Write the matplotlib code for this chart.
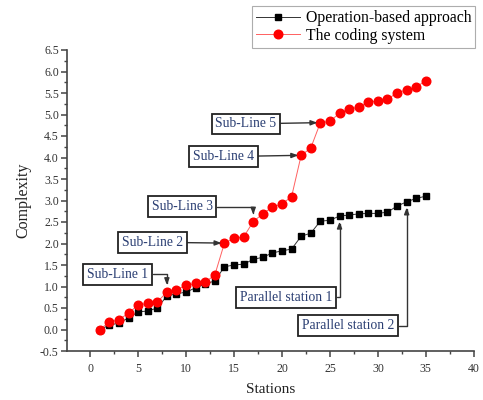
import matplotlib
matplotlib.use("Agg")
import matplotlib.pyplot as plt
from matplotlib.ticker import MultipleLocator, FormatStrFormatter

plt.rcParams['font.family'] = ['Liberation Serif', 'DejaVu Serif']

stations = list(range(1, 36))
operation_based = [0.00, 0.10, 0.15, 0.27, 0.41, 0.43, 0.50, 0.78, 0.83, 0.87,
                   0.97, 1.06, 1.13, 1.46, 1.50, 1.52, 1.63, 1.68, 1.78, 1.83,
                   1.87, 2.17, 2.24, 2.52, 2.54, 2.64, 2.66, 2.69, 2.70, 2.70,
                   2.73, 2.87, 2.97, 3.05, 3.10]
coding_system = [0.00, 0.17, 0.23, 0.38, 0.57, 0.61, 0.64, 0.87, 0.92, 1.03,
                 1.07, 1.10, 1.27, 2.01, 2.12, 2.15, 2.51, 2.69, 2.85, 2.92,
                 3.09, 4.05, 4.22, 4.81, 4.84, 5.03, 5.13, 5.17, 5.29, 5.31,
                 5.35, 5.51, 5.57, 5.64, 5.79]
series_names = ["Operation-based approach", "The coding system"]

# annotations: label, target station, series, text position (data coords), connector type
annotations = [
    ("Sub-Line 1", 8, "coding", (-0.3, 1.28), "angle_down"),
    ("Sub-Line 2", 14, "coding", (3.3, 2.03), "straight"),
    ("Sub-Line 3", 17, "coding", (6.4, 2.86), "angle_down"),
    ("Sub-Line 4", 22, "coding", (10.7, 4.02), "straight"),
    ("Sub-Line 5", 24, "coding", (13.05, 4.78), "straight"),
    ("Parallel station 1", 26, "operation", (15.6, 0.75), "angle_up"),
    ("Parallel station 2", 33, "operation", (22.1, 0.09), "angle_up"),
]

fig = plt.figure(figsize=(4.83, 4.0), dpi=100)
ax = fig.add_axes([0.139, 0.1225, 0.842, 0.7525])

ax.plot(stations, operation_based, color='#333333', lw=0.7, marker='s',
        markersize=5.0, markerfacecolor='black', markeredgecolor='black',
        label=series_names[0], zorder=3)
ax.plot(stations, coding_system, color='#ff6060', lw=0.7, marker='o',
        markersize=6.2, markerfacecolor='red', markeredgecolor='red',
        label=series_names[1], zorder=4)

ax.set_xlim(-2.4, 40)
ax.set_ylim(-0.5, 6.5)
ax.xaxis.set_major_locator(MultipleLocator(5))
ax.xaxis.set_minor_locator(MultipleLocator(2.5))
ax.yaxis.set_major_locator(MultipleLocator(0.5))
ax.yaxis.set_minor_locator(MultipleLocator(0.25))
ax.yaxis.set_major_formatter(FormatStrFormatter('%.1f'))

for s in ['top', 'right']:
    ax.spines[s].set_visible(False)
for s in ['left', 'bottom']:
    ax.spines[s].set_color('#444444')
    ax.spines[s].set_linewidth(1.2)

ax.tick_params(which='major', direction='out', length=4, width=1.1,
               color='#444444', labelsize=8.5, labelcolor='#333333')
ax.tick_params(axis='x', which='major', pad=4.5)
ax.tick_params(axis='y', which='major', pad=2)
ax.tick_params(which='minor', direction='out', length=2.5, width=1.0,
               color='#444444')

ax.set_xlabel('Stations', fontsize=11, color='#222222', labelpad=6)
ax.set_ylabel('Complexity', fontsize=11.5, color='#222222', labelpad=6)

text_color = '#2b3f73'
bbox = dict(boxstyle='square,pad=0.28', facecolor='white', edgecolor='#222222', lw=1.3)
for label, st, ser, (tx, ty), kind in annotations:
    ys = coding_system if ser == "coding" else operation_based
    tgt_y = ys[st - 1]
    if kind == "straight":
        xy = (st - 0.3, tgt_y)
        cs = "arc3"
    elif kind == "angle_down":
        xy = (st, tgt_y + 0.16)
        cs = "angle,angleA=0,angleB=90,rad=0"
    else:
        xy = (st, tgt_y - 0.13)
        cs = "angle,angleA=0,angleB=90,rad=0"
    ax.annotate(label, xy=xy, xytext=(tx, ty), textcoords='data',
                fontsize=9.8, color=text_color, ha='left', va='center',
                bbox=bbox,
                arrowprops=dict(arrowstyle='-|>,head_length=0.4,head_width=0.15',
                                color='#333333', lw=1.0,
                                connectionstyle=cs, shrinkA=0, shrinkB=0),
                zorder=6)

leg = ax.legend(loc='upper right', bbox_to_anchor=(0.984, 0.984),
                bbox_transform=fig.transFigure, fontsize=11.3, frameon=True,
                fancybox=False, edgecolor='#999999', borderpad=0.25,
                labelspacing=0.1, handlelength=2.8, handletextpad=0.35,
                borderaxespad=0)
leg.get_frame().set_linewidth(0.8)

fig.savefig('out.png', dpi=100)
